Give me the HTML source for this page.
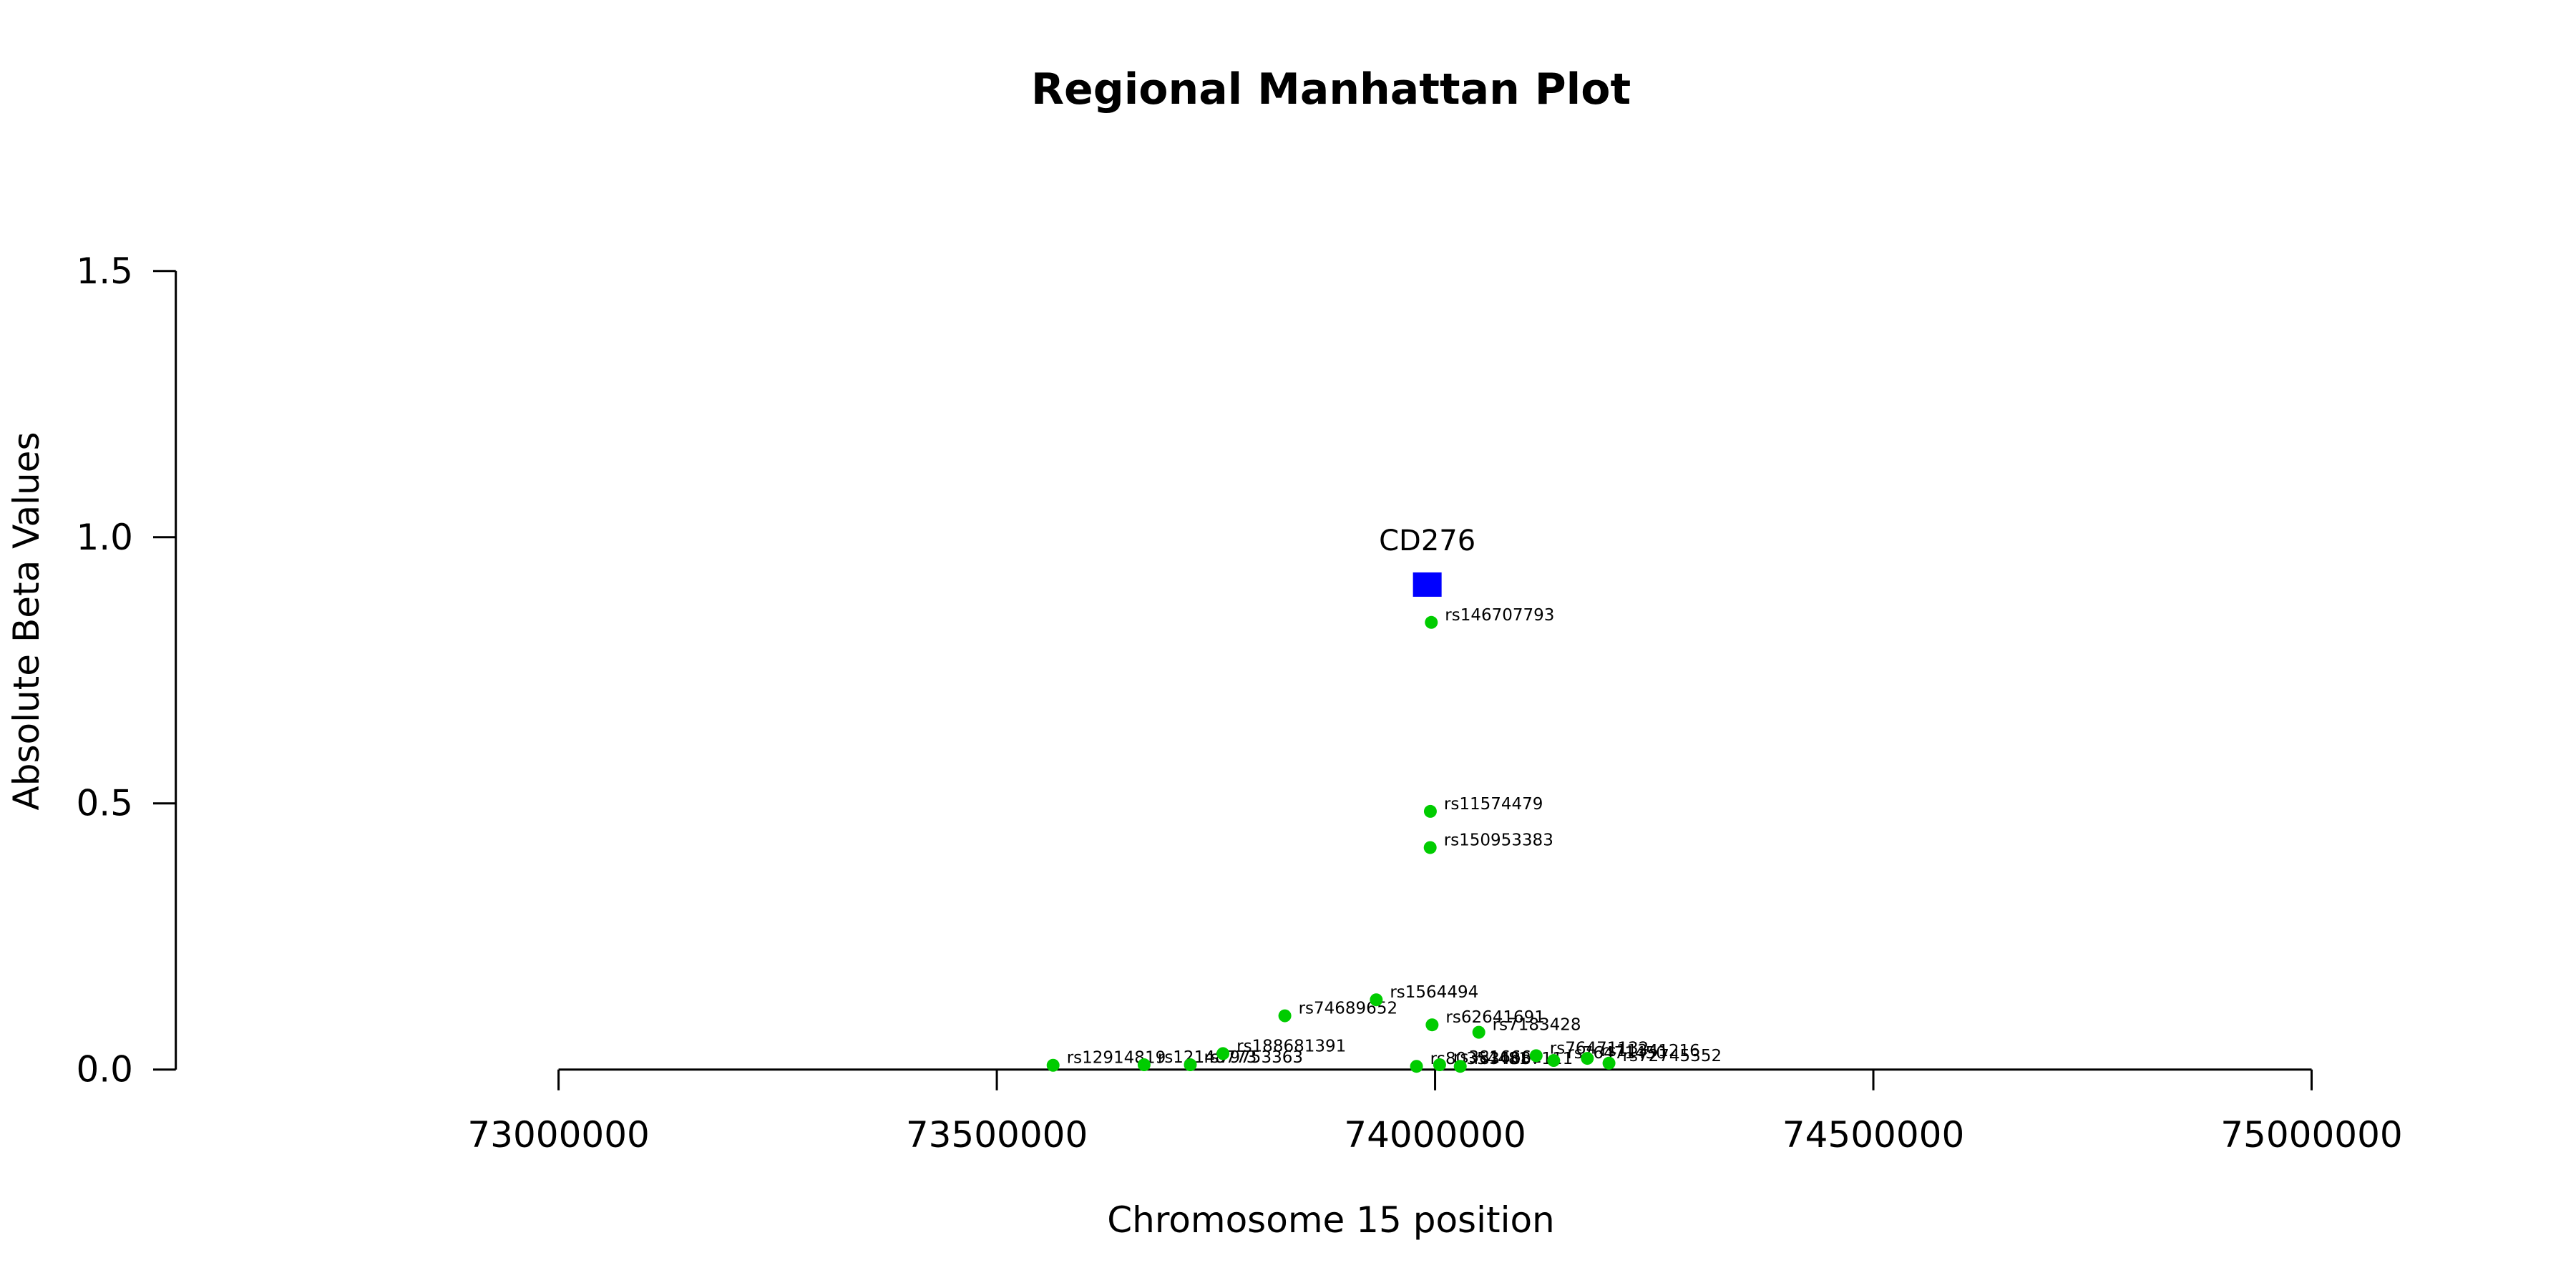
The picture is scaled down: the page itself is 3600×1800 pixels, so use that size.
<!DOCTYPE html>
<html><head><meta charset="utf-8"><style>
html,body{margin:0;padding:0;background:#fff;}
svg{display:block;font-family:"DejaVu Sans","Liberation Sans",sans-serif;}
</style></head><body>
<svg id="chart" width="3600" height="1800" viewBox="0 0 3600 1800" xmlns="http://www.w3.org/2000/svg">
<text x="1860" y="145" text-anchor="middle" font-size="60" font-weight="bold">Regional Manhattan Plot</text>
<text transform="translate(54,868) rotate(-90)" text-anchor="middle" font-size="50">Absolute Beta Values</text>
<text x="1860" y="1722" text-anchor="middle" font-size="50">Chromosome 15 position</text>
<g id="axes"></g>
<g id="marks"></g>
</svg>
<script>
const snpNames = ["rs12914819","rs12148773","rs79753363","rs188681391","rs74689652","rs1564494","rs62641691","rs7183428","rs80354481","rs3816661","rs34887111","rs76471132","rs76471450","rs11341216","rs72745352","rs146707793","rs11574479","rs150953383"];
const snpPositions = [73564200,73668000,73720750,73758000,73828600,73932900,73996600,74049900,73978800,74005200,74028700,74115300,74135300,74173700,74198400,73995700,73994600,73994400];
const snpBetas = [0.008,0.009,0.009,0.030,0.101,0.131,0.084,0.070,0.006,0.009,0.006,0.026,0.017,0.021,0.012,0.840,0.485,0.417];
const geneNames = ["CD276"];
const genePositions = [73991100];
const geneBetas = [0.911];
const xTicks = [73000000,73500000,74000000,74500000,75000000];
const yTicks = [0.0,0.5,1.0,1.5];
const yTickLabels = ["0.0","0.5","1.0","1.5"];

const NS="http://www.w3.org/2000/svg";
const X0=780.6, X1=3230.5, XMIN=73000000, XMAX=75000000;
const Y0=1494.7, Y1=378.8, YMIN=0, YMAX=1.5;
function xs(v){return X0+(v-XMIN)/(XMAX-XMIN)*(X1-X0);}
function ys(v){return Y0-(v-YMIN)/(YMAX-YMIN)*(Y0-Y1);}
function mk(tag,attrs,parent){const e=document.createElementNS(NS,tag);for(const k in attrs)e.setAttribute(k,attrs[k]);parent.appendChild(e);return e;}
const axes=document.getElementById('axes'), marks=document.getElementById('marks');

let yl=mk('line',{x1:245.7,x2:245.7,y1:ys(1.5),y2:ys(0),stroke:'#000','stroke-width':3},axes);


yTicks.forEach((t,i)=>{
  let l=mk('line',{x1:214,x2:245.7,y1:ys(t),y2:ys(t),stroke:'#000','stroke-width':3},axes);
  
  
  let tx=mk('text',{x:186,y:ys(t)+17,'text-anchor':'end','font-size':50},axes);
  tx.textContent=yTickLabels[i];
  
  
});
let xl=mk('line',{x1:xs(XMIN),x2:xs(XMAX),y1:Y0,y2:Y0,stroke:'#000','stroke-width':3},axes);


xTicks.forEach(t=>{
  let l=mk('line',{x1:xs(t),x2:xs(t),y1:Y0,y2:Y0+29,stroke:'#000','stroke-width':3},axes);
  
  
  let tx=mk('text',{x:xs(t),y:1603,'text-anchor':'middle','font-size':50},axes);
  tx.textContent=String(t);
  
  
});

snpNames.forEach((n,i)=>{
  const cx=xs(snpPositions[i]), cy=ys(snpBetas[i]);
  let c=mk('circle',{cx:cx,cy:cy,r:9,fill:'#00cc00'},marks);
  
  
  let t=mk('text',{x:cx+19,y:cy-3,'font-size':23},marks);
  t.textContent=n;
  
  
});
geneNames.forEach((n,i)=>{
  const cx=xs(genePositions[i]), cy=ys(geneBetas[i]);
  let r=mk('rect',{x:cx-20,y:cy-17,width:40,height:34,fill:'#0000ff'},marks);
  
  
  let t=mk('text',{x:cx,y:cy-48,'text-anchor':'middle','font-size':40},marks);
  t.textContent=n;
  
  
});
</script>
</body></html>
